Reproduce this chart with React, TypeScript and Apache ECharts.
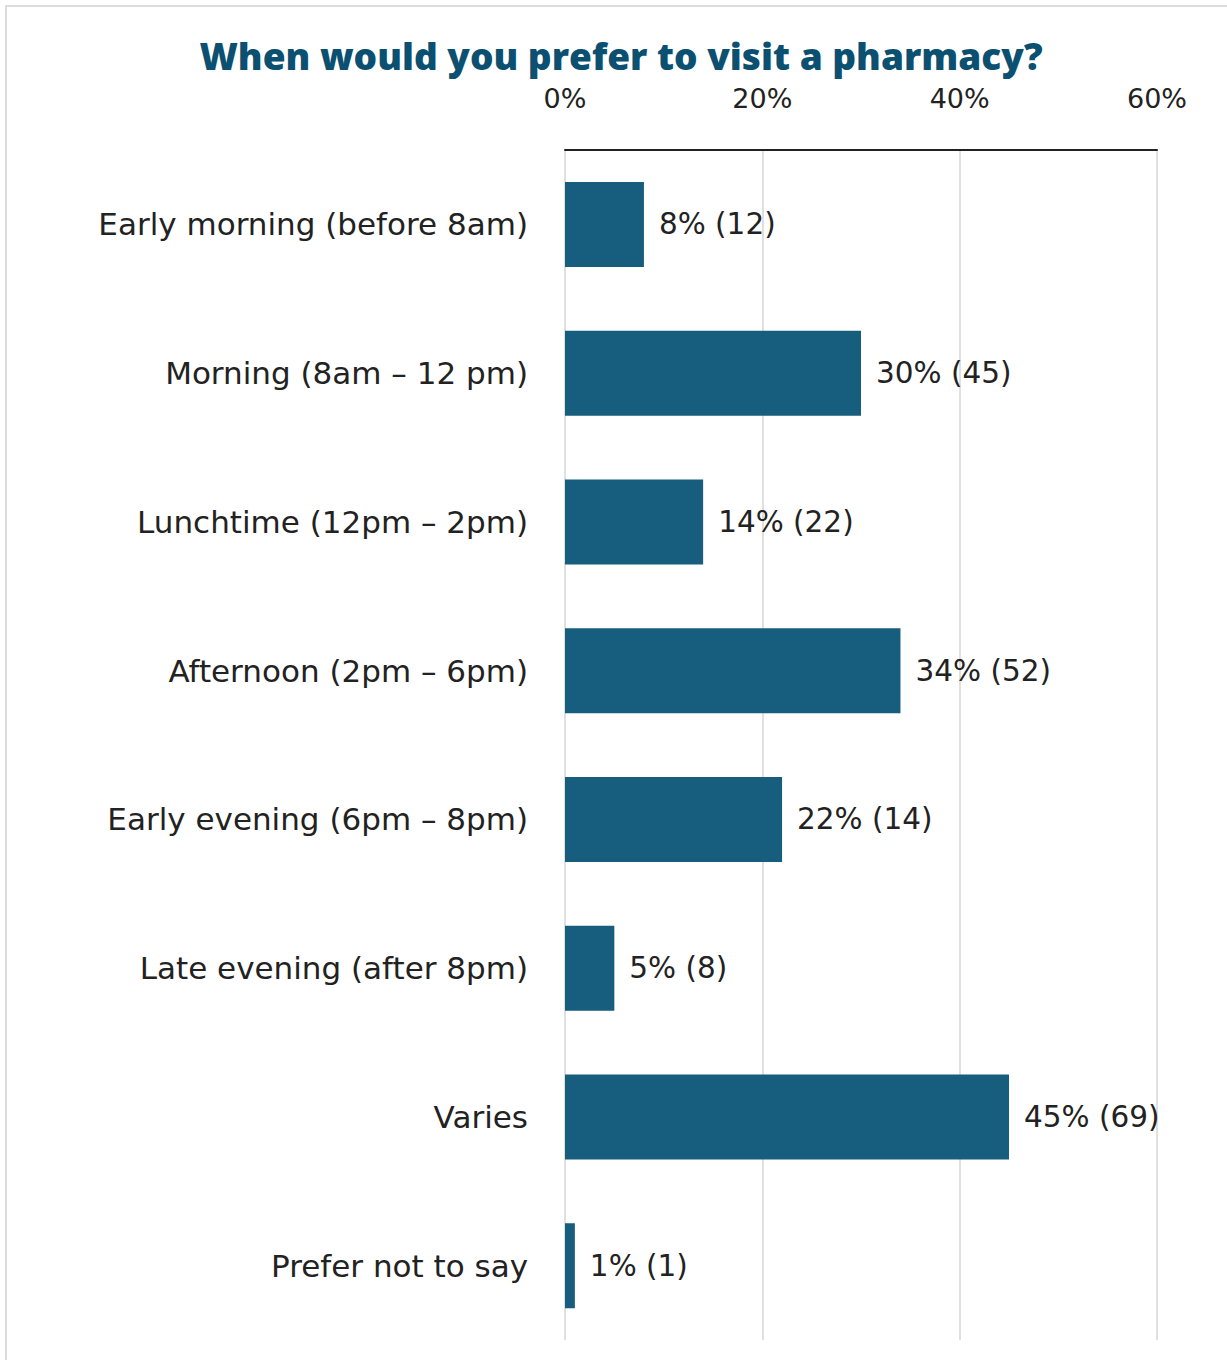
import React, { useEffect, useRef } from "react";
import * as echarts from "echarts";

// Survey responses: preferred time to visit a pharmacy
const categories = [
  "Early morning (before 8am)",
  "Morning (8am – 12 pm)",
  "Lunchtime (12pm – 2pm)",
  "Afternoon (2pm – 6pm)",
  "Early evening (6pm – 8pm)",
  "Late evening (after 8pm)",
  "Varies",
  "Prefer not to say",
];
const percentages = [8, 30, 14, 34, 22, 5, 45, 1];
const counts = [12, 45, 22, 52, 14, 8, 69, 1];
const axisTicks = [0, 20, 40, 60];

const BODY_FONT = "'DejaVu Sans', 'Noto Sans', sans-serif";
const TITLE_FONT = "'Open Sans', 'Noto Sans', sans-serif";

export default function App() {
  const ref = useRef<HTMLDivElement>(null);

  useEffect(() => {
    if (!ref.current) return;
    const chart = echarts.init(ref.current, undefined, { renderer: "svg" });
    chart.setOption({
      animation: false,
      backgroundColor: "#ffffff",
      title: {
        text: "When would you prefer to visit a pharmacy?",
        left: 616,
        textAlign: "center",
        top: 32,
        textStyle: {
          fontFamily: TITLE_FONT,
          fontSize: 37,
          fontWeight: 800,
          color: "#0b5070",
        },
      },
      graphic: [
        {
          type: "rect",
          shape: { x: 6, y: 6, width: 1400, height: 1500 },
          style: { fill: "none", stroke: "#dcdcdc", lineWidth: 2 },
          silent: true,
        },
      ],
      grid: { left: 565, right: 70, top: 150, bottom: 20, containLabel: false },
      xAxis: {
        type: "value",
        position: "top",
        min: axisTicks[0],
        max: axisTicks[axisTicks.length - 1],
        interval: axisTicks[1] - axisTicks[0],
        axisLine: { show: true, lineStyle: { color: "#222222", width: 2 } },
        axisTick: { show: false },
        axisLabel: {
          margin: 38,
          fontFamily: BODY_FONT,
          fontSize: 27,
          color: "#222222",
          formatter: (v: number) => `${v}%`,
        },
        splitLine: { show: true, lineStyle: { color: "#d6d6d6", width: 1.5 } },
      },
      yAxis: {
        type: "category",
        inverse: true,
        data: categories,
        axisLine: { show: false },
        axisTick: { show: false },
        axisLabel: {
          margin: 37,
          fontFamily: BODY_FONT,
          fontSize: 31,
          color: "#222222",
        },
      },
      series: [
        {
          type: "bar",
          data: percentages,
          barWidth: 85,
          itemStyle: { color: "#175d7e" },
          label: {
            show: true,
            position: "right",
            distance: 15,
            fontFamily: BODY_FONT,
            fontSize: 29.5,
            color: "#222222",
            formatter: (p: any) => `${percentages[p.dataIndex]}% (${counts[p.dataIndex]})`,
          },
        },
      ],
    });
    return () => chart.dispose();
  }, []);

  return (
    <div
      ref={ref}
      style={{ position: "absolute", left: 0, top: 0, width: 1227, height: 1360 }}
    />
  );
}
